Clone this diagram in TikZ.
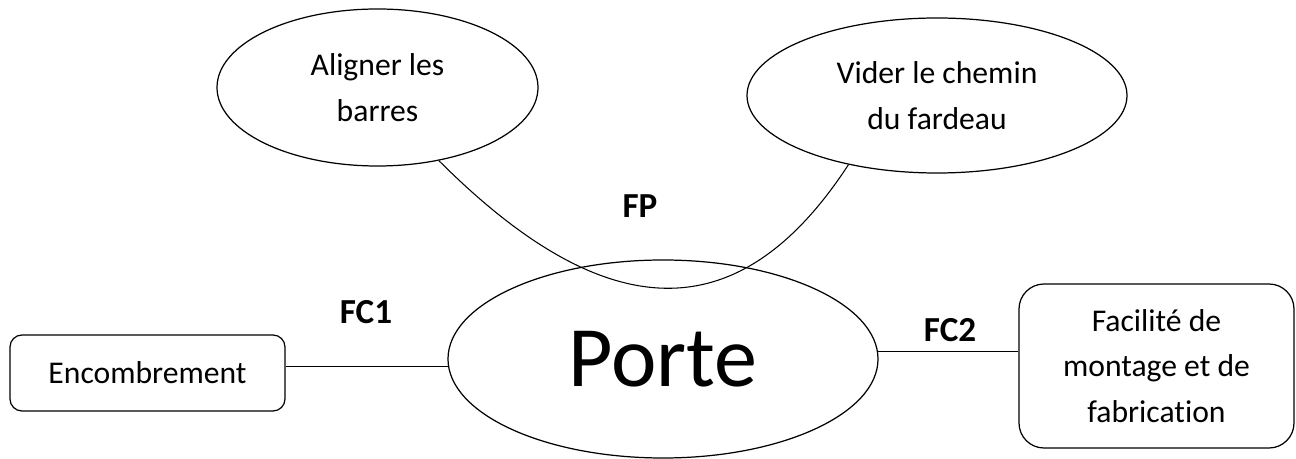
\documentclass[tikz,border=0pt]{standalone}
\usepackage{fontspec}
\setmainfont{Carlito}[Ligatures=NoCommon]
\usetikzlibrary{shapes.geometric}

\begin{document}
\begin{tikzpicture}[
    % styles of the picture
    bubble/.style={ellipse, draw, line width=0.7pt, inner sep=0pt, align=center,
      font=\fontsize{18}{26}\selectfont},
    fcbox/.style={draw, rounded corners=#1, line width=0.7pt, inner sep=0pt,
      align=center, minimum width=5.5cm, font=\fontsize{18}{26}\selectfont},
    fclabel/.style={font=\fontsize{20}{24}\selectfont\bfseries},
    link/.style={line width=0.6pt}]

  % the frame of the picture
  \useasboundingbox (0,0) rectangle (25.92,9.18);

  % The central ellipse
  \node[bubble, minimum width=8.6cm, minimum height=3.96cm,
    font=\fontsize{49}{59}\selectfont] (porte) at (13.26,2.0) {Porte};

  % The two upper ellipses
  \node[bubble, minimum width=6.42cm, minimum height=3.14cm] (aligner) at (7.55,7.43)
    {Aligner les\\barres};
  \node[bubble, minimum width=7.6cm, minimum height=3.1cm] (vider) at (18.74,7.27)
    {Vider le chemin\\du fardeau};

  % The side boxes
  \node[fcbox=0.24cm, minimum height=1.52cm] (encombr) at (2.95,1.72) {Encombrement};
  \node[fcbox=0.5cm, minimum height=3.28cm] (facil) at (23.13,1.86)
    {Facilit\'e de\\montage et de\\fabrication};

  % connectors
  \draw[link] (aligner.-50) .. controls +(3.42,-3.42) and +(-2.14,-3.28) .. (vider.-142);
  \draw[link] (porte.182) -- (porte.182 -| encombr.east);
  \draw[link] (porte.2) -- (porte.2 -| facil.west);

  % function labels
  \node[fclabel] (fp) at (12.8,5.06) {FP};
  \node[fclabel] (fc1) at (7.32,2.94) {FC1};
  \node[fclabel] (fc2) at (19.0,2.58) {FC2};
\end{tikzpicture}
\end{document}
